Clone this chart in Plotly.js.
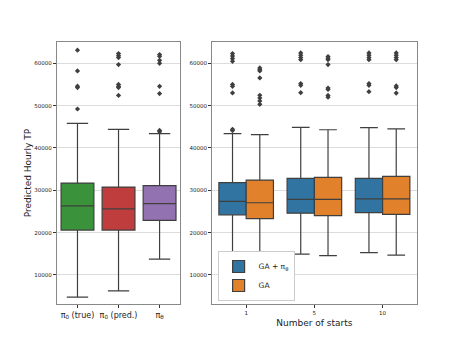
<!DOCTYPE html>
<html>
<head>
<meta charset="utf-8">
<script src="https://cdn.plot.ly/plotly-3.0.1.min.js"></script>
<style>
  html, body { margin: 0; padding: 0; background: #fff; }
  #chart { width: 463px; height: 348px; }
</style>
</head>
<body>
<div id="chart"></div>
<script>
// ---- left panel: policies ----
const policyCats = ['true', 'pred', 'theta'];
const policyLabels = ['π<sub>0</sub> (true)', 'π<sub>0</sub> (pred.)', 'π<sub>θ</sub>'];
const policyColors = ['#3a923a', '#c03d3e', '#9372b2'];
const policyQ1 = [20600, 20600, 22900];
const policyMed = [26300, 25600, 26850];
const policyQ3 = [31700, 30750, 31100];
const policyLo = [4750, 6250, 13750];
const policyHi = [45800, 44400, 43400];
const policyOutX = ['true', 'true', 'true', 'true', 'true',
  'pred', 'pred', 'pred', 'pred', 'pred', 'pred', 'pred', 'pred',
  'theta', 'theta', 'theta', 'theta', 'theta', 'theta', 'theta', 'theta'];
const policyOutY = [63100, 58200, 54600, 54250, 49200,
  62300, 61800, 61350, 59700, 55000, 54550, 54250, 52400,
  62050, 61650, 60700, 60000, 54550, 52850, 44150, 43800];

// ---- right panel: number of starts ----
const starts = ['1', '5', '10'];
const gaThQ1 = [24200, 24600, 24700];
const gaThMed = [27400, 27850, 27950];
const gaThQ3 = [31800, 32800, 32800];
const gaThLo = [14450, 14900, 15250];
const gaThHi = [43400, 44850, 44800];
const gaQ1 = [23300, 24000, 24300];
const gaMed = [27050, 27850, 27950];
const gaQ3 = [32400, 33050, 33300];
const gaLo = [14000, 14550, 14700];
const gaHi = [43150, 44300, 44500];

const gaThOutX = ['1', '1', '1', '1', '1', '1', '1', '1', '1',
  '5', '5', '5', '5', '5', '5', '5',
  '10', '10', '10', '10', '10', '10', '10'];
const gaThOutY = [62300, 61700, 61100, 60450, 55000, 54550, 53000, 44400, 44100,
  62450, 61900, 61350, 60850, 55200, 54800, 53050,
  62450, 61900, 61350, 60850, 55200, 54800, 53300];
const gaOutX = ['1', '1', '1', '1', '1', '1', '1', '1',
  '5', '5', '5', '5', '5', '5', '5', '5',
  '10', '10', '10', '10', '10', '10', '10'];
const gaOutY = [58900, 58500, 58200, 56550, 52450, 51800, 51100, 50300,
  61600, 61200, 60850, 59700, 54150, 53800, 52400, 52000,
  62450, 61900, 61350, 60850, 54650, 54250, 52950];

const lineGray = '#3f3f3f';
const gaThColor = '#3274a1';
const gaColor = '#e1812c';

let traces = [];

// one box per policy, same offset slot so they sit centred
for (let i = 0; i < policyCats.length; i++) {
    traces.push({
        type: 'box',
        x: [policyCats[i]],
        q1: [policyQ1[i]], median: [policyMed[i]], q3: [policyQ3[i]],
        lowerfence: [policyLo[i]], upperfence: [policyHi[i]],
        xaxis: 'x', yaxis: 'y',
        offsetgroup: 'L', alignmentgroup: 'left',
        fillcolor: policyColors[i],
        line: { color: lineGray, width: 1.2 },
        whiskerwidth: 0.65,
        boxpoints: false,
        showlegend: false,
        hoverinfo: 'skip'
    });
}

traces.push({
    type: 'box',
    x: starts, q1: gaThQ1, median: gaThMed, q3: gaThQ3,
    lowerfence: gaThLo, upperfence: gaThHi,
    name: 'GA + π<sub>θ</sub>',
    xaxis: 'x2', yaxis: 'y2',
    offsetgroup: 'a', alignmentgroup: 'right',
    fillcolor: gaThColor,
    line: { color: lineGray, width: 1.2 },
    whiskerwidth: 0.65,
    boxpoints: false
});
traces.push({
    type: 'box',
    x: starts, q1: gaQ1, median: gaMed, q3: gaQ3,
    lowerfence: gaLo, upperfence: gaHi,
    name: 'GA',
    xaxis: 'x2', yaxis: 'y2',
    offsetgroup: 'b', alignmentgroup: 'right',
    fillcolor: gaColor,
    line: { color: lineGray, width: 1.2 },
    whiskerwidth: 0.65,
    boxpoints: false
});

// outliers as diamonds
let outMarker = { symbol: 'diamond', size: 4, color: lineGray };
traces.push({
    type: 'scatter', mode: 'markers',
    x: policyOutX, y: policyOutY,
    xaxis: 'x', yaxis: 'y',
    offsetgroup: 'L', alignmentgroup: 'leftpts',
    marker: outMarker, showlegend: false, hoverinfo: 'skip'
});
traces.push({
    type: 'scatter', mode: 'markers',
    x: gaThOutX, y: gaThOutY,
    xaxis: 'x2', yaxis: 'y2',
    offsetgroup: 'a', alignmentgroup: 'rightpts',
    marker: outMarker, showlegend: false, hoverinfo: 'skip'
});
traces.push({
    type: 'scatter', mode: 'markers',
    x: gaOutX, y: gaOutY,
    xaxis: 'x2', yaxis: 'y2',
    offsetgroup: 'b', alignmentgroup: 'rightpts',
    marker: outMarker, showlegend: false, hoverinfo: 'skip'
});

const yRange = [3100, 65000];
const tickVals = [10000, 20000, 30000, 40000, 50000, 60000];

let yBase = {
    range: yRange,
    tickvals: tickVals,
    tickformat: 'd',
    tickfont: { size: 5.5, color: '#222' },
    showgrid: true, gridcolor: '#dcdcdc', gridwidth: 1,
    zeroline: false,
    showline: true, linecolor: '#888', linewidth: 1, mirror: true,
    ticks: 'outside', ticklen: 3, tickcolor: '#333',
    domain: [0.126, 0.879]
};

let layout = {
    width: 463, height: 348,
    margin: { l: 0, r: 0, t: 0, b: 0 },
    paper_bgcolor: '#fff', plot_bgcolor: '#fff',
    font: { family: 'DejaVu Sans, sans-serif', color: '#222' },
    boxmode: 'group', boxgap: 0.2, boxgroupgap: 0,
    scattermode: 'group', scattergap: 0.2,
    xaxis: {
        domain: [0.123, 0.389], anchor: 'y',
        type: 'category',
        tickvals: policyCats, ticktext: policyLabels,
        range: [-0.5, 2.5],
        tickfont: { size: 8, color: '#222' },
        showline: true, linecolor: '#888', linewidth: 1, mirror: true,
        ticks: 'outside', ticklen: 3, tickcolor: '#333',
        showgrid: false
    },
    yaxis: Object.assign({}, yBase, {
        anchor: 'x',
        title: { text: 'Predicted Hourly TP', font: { size: 9, color: '#222' }, standoff: 1 }
    }),
    xaxis2: {
        domain: [0.458, 0.9], anchor: 'y2',
        type: 'category',
        range: [-0.5, 2.5],
        tickfont: { size: 5.5, color: '#222' },
        showline: true, linecolor: '#888', linewidth: 1, mirror: true,
        ticks: 'outside', ticklen: 3, tickcolor: '#333',
        showgrid: false,
        title: { text: 'Number of starts', font: { size: 9, color: '#222' }, standoff: 4 }
    },
    yaxis2: Object.assign({}, yBase, { anchor: 'x2', matches: 'y' }),
    legend: {
        x: 0.47, y: 0.135, xanchor: 'left', yanchor: 'bottom',
        bgcolor: '#fff', bordercolor: '#ccc', borderwidth: 1,
        font: { size: 7.5, color: '#222' },
        itemwidth: 30,
        tracegroupgap: 0
    },
    showlegend: true
};

Plotly.newPlot('chart', traces, layout, { displayModeBar: false, staticPlot: true });
</script>
</body>
</html>
